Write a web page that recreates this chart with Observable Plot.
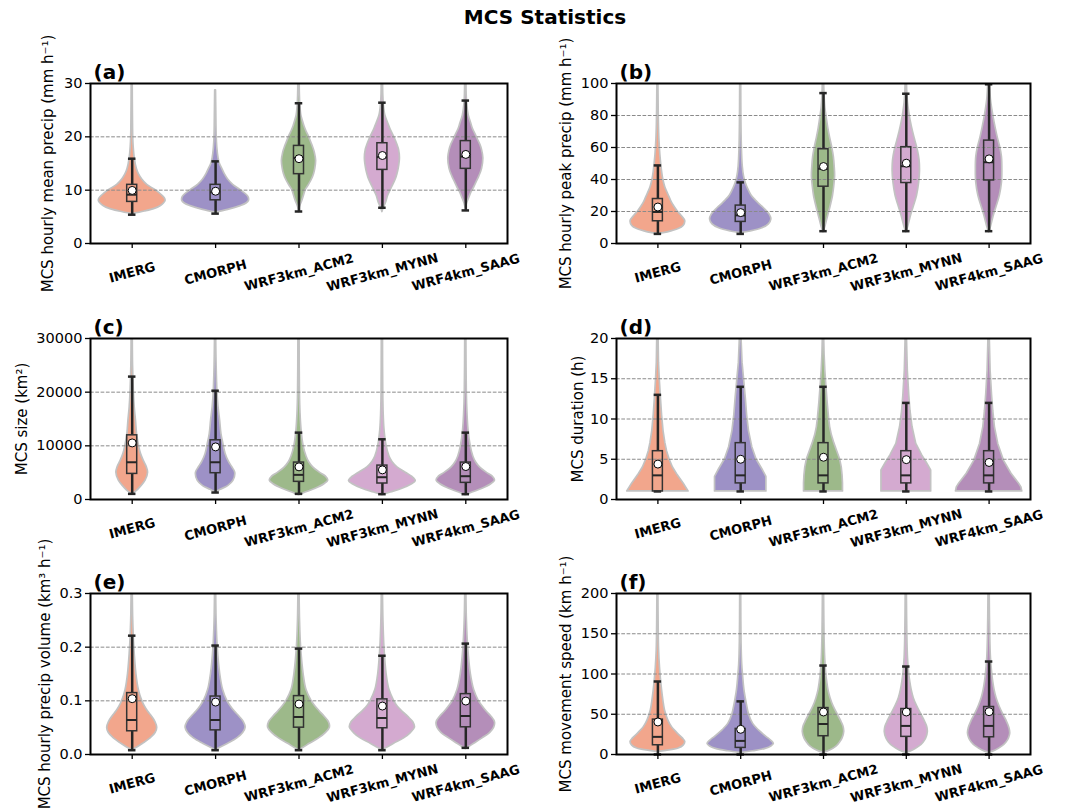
<!DOCTYPE html>
<html><head><meta charset="utf-8">
<script src="https://cdn.jsdelivr.net/npm/d3@7"></script>
<script src="https://cdn.jsdelivr.net/npm/@observablehq/plot@0.6"></script>
<style>
body{margin:0;background:#fff;font-family:"DejaVu Sans",sans-serif;}
#wrap{position:relative;width:1083px;height:809px;overflow:hidden;}
.panel{position:absolute;}
.panel svg{overflow:visible;}
#title{position:absolute;left:0;top:5px;width:1090px;text-align:center;font-weight:bold;font-size:20px;color:#000;}
</style></head>
<body><div id="wrap"><div id="title">MCS Statistics</div></div>
<script>
const categories = ["IMERG", "CMORPH", "WRF3km_ACM2", "WRF3km_MYNN", "WRF4km_SAAG"];
const colors = ["#f2a68c", "#9d91c6", "#9db98a", "#d4aad0", "#b48eb9"];

// violin profiles: [value, half-width in category units]
const violinA = [
  [[5.5,0],[6,0.15],[6.5,0.27],[7,0.34],[7.5,0.38],[8,0.40],[8.5,0.39],[9,0.36],[10,0.28],[11,0.18],[12,0.12],[13,0.08],[14,0.055],[16,0.03],[18,0.018],[20,0.012],[25,0.008],[30,0.006]],
  [[5.8,0],[6.3,0.15],[7,0.3],[7.5,0.37],[8,0.40],[8.5,0.40],[9,0.38],[10,0.30],[11,0.21],[12,0.15],[13,0.11],[14,0.08],[15,0.05],[16,0.035],[18,0.02],[20,0.013],[25,0.008],[28.7,0.005]],
  [[5.9,0],[6.8,0.01],[8,0.04],[9,0.06],[10,0.08],[11,0.12],[12,0.155],[13,0.18],[14,0.195],[15.5,0.205],[17,0.19],[18,0.17],[19,0.145],[20,0.12],[21,0.09],[22,0.065],[23,0.045],[24,0.028],[26,0.015],[28,0.01],[30,0.008]],
  [[5.9,0],[6.5,0.012],[7.5,0.04],[9,0.07],[10,0.10],[11,0.13],[12,0.16],[13,0.18],[14,0.195],[16,0.21],[17.5,0.2],[18.5,0.18],[19.5,0.155],[20.5,0.125],[21.5,0.095],[22.5,0.07],[24,0.035],[26,0.017],[28,0.01],[30,0.008]],
  [[6.5,0],[7.5,0.015],[8.5,0.04],[9.5,0.065],[10.5,0.1],[11.5,0.13],[12.5,0.16],[14,0.195],[16,0.21],[17.5,0.195],[18.5,0.175],[19.5,0.145],[20.5,0.115],[21.5,0.085],[22.5,0.065],[24,0.035],[26,0.017],[28,0.01],[30,0.008]]
];
const violinB = [
  [[6,0],[7,0.12],[9,0.25],[11,0.31],[14,0.33],[17,0.29],[20,0.24],[23,0.2],[26,0.165],[29,0.14],[35,0.09],[40,0.065],[45,0.05],[55,0.03],[65,0.018],[75,0.012],[90,0.008],[100,0.006]],
  [[6.5,0],[7.5,0.12],[9.5,0.26],[12,0.34],[15,0.37],[18,0.35],[21,0.30],[24,0.24],[27,0.18],[30,0.13],[34,0.09],[38,0.06],[42,0.04],[48,0.025],[60,0.014],[75,0.009],[100,0.006]],
  [[7,0],[10,0.02],[14,0.04],[18,0.06],[23,0.085],[30,0.115],[36,0.13],[42,0.14],[48,0.135],[54,0.125],[60,0.105],[66,0.08],[72,0.058],[78,0.04],[85,0.022],[92,0.013],[100,0.008]],
  [[7,0],[10,0.02],[14,0.04],[18,0.06],[23,0.09],[30,0.13],[38,0.155],[45,0.165],[52,0.16],[58,0.14],[64,0.11],[70,0.08],[76,0.055],[82,0.035],[88,0.02],[94,0.012],[100,0.008]],
  [[7,0],[10,0.02],[14,0.04],[18,0.06],[23,0.09],[30,0.13],[38,0.155],[46,0.16],[54,0.155],[60,0.135],[66,0.105],[72,0.08],[78,0.057],[84,0.038],[90,0.022],[96,0.014],[100,0.01]]
];
const violinC = [
  [[1000,0],[1500,0.05],[2300,0.10],[3500,0.16],[5000,0.19],[6000,0.175],[7000,0.145],[8500,0.105],[10400,0.077],[12200,0.058],[14700,0.045],[17200,0.03],[20000,0.02],[25000,0.01],[30000,0.007]],
  [[1300,0],[1800,0.06],[2500,0.15],[3500,0.215],[5000,0.235],[6000,0.2],[7000,0.16],[8500,0.12],[10400,0.093],[12200,0.07],[14700,0.054],[17200,0.035],[20000,0.022],[25000,0.012],[30000,0.007]],
  [[800,0],[1300,0.08],[2000,0.2],[2800,0.3],[3500,0.35],[4300,0.32],[5000,0.25],[6000,0.17],[7000,0.12],[8000,0.09],[10000,0.055],[13000,0.03],[16000,0.018],[20000,0.011],[30000,0.007]],
  [[800,0],[1300,0.1],[2000,0.24],[2800,0.35],[3400,0.40],[4200,0.36],[5000,0.28],[6000,0.18],[7000,0.12],[8000,0.085],[10000,0.05],[13000,0.025],[16000,0.015],[20000,0.01],[30000,0.007]],
  [[800,0],[1300,0.08],[2000,0.2],[2800,0.3],[3500,0.35],[4300,0.32],[5000,0.25],[6000,0.17],[7000,0.12],[8000,0.09],[10000,0.058],[13000,0.032],[16000,0.02],[20000,0.012],[30000,0.007]]
];
const violinD = [
  [[1,0.37],[2,0.31],[3,0.24],[4,0.18],[5,0.14],[6,0.11],[7,0.09],[8.5,0.068],[10.5,0.05],[12.5,0.037],[15,0.022],[17,0.013],[20,0.008]],
  [[1,0.31],[2.8,0.31],[3.6,0.27],[5,0.19],[6.5,0.14],[8.5,0.1],[10.5,0.077],[12.5,0.062],[15,0.04],[17,0.022],[20,0.01]],
  [[1,0.235],[2,0.235],[3,0.23],[4,0.22],[5,0.2],[6,0.165],[7,0.13],[8,0.1],[9,0.08],[10,0.068],[12,0.05],[14,0.035],[16,0.022],[18,0.013],[20,0.008]],
  [[1,0.30],[3.6,0.30],[4.5,0.25],[5.5,0.19],[6.9,0.12],[9,0.075],[11,0.05],[13,0.035],[16,0.018],[20,0.008]],
  [[1,0.40],[1.5,0.39],[2,0.36],[3.2,0.27],[4.8,0.18],[6.9,0.11],[9,0.07],[11,0.05],[13,0.035],[16,0.018],[20,0.008]]
];
const violinE = [
  [[0.008,0],[0.012,0.05],[0.02,0.13],[0.03,0.22],[0.04,0.28],[0.05,0.30],[0.06,0.28],[0.07,0.24],[0.08,0.19],[0.09,0.15],[0.1,0.12],[0.12,0.08],[0.15,0.05],[0.2,0.025],[0.25,0.012],[0.3,0.007]],
  [[0.008,0],[0.012,0.05],[0.02,0.15],[0.03,0.26],[0.04,0.33],[0.05,0.36],[0.06,0.34],[0.07,0.29],[0.08,0.23],[0.09,0.18],[0.1,0.14],[0.12,0.09],[0.15,0.055],[0.2,0.025],[0.25,0.012],[0.3,0.007]],
  [[0.008,0],[0.012,0.05],[0.02,0.13],[0.03,0.24],[0.04,0.32],[0.05,0.37],[0.06,0.36],[0.07,0.31],[0.08,0.25],[0.09,0.195],[0.1,0.15],[0.12,0.09],[0.15,0.055],[0.2,0.025],[0.25,0.012],[0.3,0.007]],
  [[0.008,0],[0.012,0.05],[0.02,0.14],[0.03,0.26],[0.04,0.34],[0.05,0.39],[0.06,0.37],[0.07,0.31],[0.08,0.24],[0.09,0.18],[0.1,0.14],[0.12,0.085],[0.15,0.05],[0.2,0.024],[0.25,0.012],[0.3,0.007]],
  [[0.01,0],[0.015,0.05],[0.02,0.1],[0.03,0.2],[0.04,0.29],[0.05,0.34],[0.06,0.35],[0.07,0.31],[0.08,0.25],[0.09,0.2],[0.1,0.155],[0.12,0.1],[0.15,0.06],[0.2,0.028],[0.25,0.013],[0.3,0.007]]
];
const violinF = [
  [[3,0],[4.5,0.1],[7.4,0.25],[11,0.31],[15.7,0.33],[20,0.3],[26,0.24],[34,0.17],[42.5,0.125],[55,0.085],[67,0.066],[80,0.05],[92,0.038],[108,0.025],[130,0.014],[160,0.009],[200,0.006]],
  [[2,0],[4,0.15],[7,0.3],[10,0.37],[13,0.40],[17,0.37],[22,0.31],[30,0.22],[38,0.15],[50,0.10],[63,0.073],[80,0.045],[96,0.03],[112,0.018],[140,0.01],[200,0.006]],
  [[2,0],[5,0.08],[10,0.16],[15,0.2],[20,0.23],[28,0.25],[35,0.24],[42,0.21],[50,0.17],[60,0.12],[70,0.085],[80,0.06],[90,0.045],[100,0.033],[120,0.02],[150,0.012],[200,0.007]],
  [[2,0],[5,0.08],[10,0.16],[15,0.21],[20,0.24],[28,0.26],[35,0.25],[42,0.22],[50,0.18],[60,0.13],[70,0.09],[80,0.065],[90,0.048],[100,0.035],[120,0.02],[150,0.012],[200,0.007]],
  [[2,0],[5,0.08],[10,0.16],[15,0.21],[20,0.24],[26,0.255],[33,0.245],[42,0.21],[50,0.17],[60,0.125],[70,0.09],[80,0.066],[90,0.05],[100,0.038],[120,0.022],[150,0.013],[200,0.007]]
];

// box stats per category: [whisker low, Q1, median, Q3, whisker high, mean]
const boxA = [[5.4,7.8,9.15,11.0,15.9,9.95],[5.6,8.1,9.6,11.0,15.4,9.8],[6.0,13.0,16.05,18.3,26.3,15.9],[6.7,13.8,16.2,18.8,26.4,16.5],[6.2,14.0,16.3,19.2,26.8,16.7]];
const boxB = [[6.0,13.9,19.7,27.8,48.8,22.8],[6.0,13.5,17.6,23.7,38.2,19.3],[7.7,35.5,46.7,58.9,94.0,48.1],[7.7,37.8,48.3,60.2,93.6,50.2],[7.7,39.4,50.8,64.3,99.5,52.9]];
const boxC = [[1050,4770,6940,11960,22900,10540],[1300,4900,6940,11030,20270,9800],[1050,3290,4590,6880,12460,6080],[990,2980,4150,6320,11220,5520],[990,3100,4340,6880,12460,6140]];
const boxD = [[1,1,3,6,13,4.4],[1,2,3,7,14,5.0],[1,2,3,7,14,5.25],[1,2,3,6,12,4.95],[1,2,3,6,12,4.6]];
const boxE = [[0.008,0.0433,0.0643,0.1144,0.2214,0.104],[0.008,0.045,0.0643,0.108,0.203,0.0977],[0.008,0.05,0.0699,0.1088,0.1973,0.094],[0.008,0.0489,0.068,0.1027,0.184,0.0903],[0.0124,0.0507,0.0717,0.1125,0.2066,0.0996]];
const boxF = [[0,11.5,21.9,43.3,90.7,40.4],[0,8.2,16.9,31.8,66,31.3],[0,22.7,37.9,57.7,110.5,52.8],[0,21.9,35.5,56.5,109.3,52.8],[0,21.4,35.5,59,115.5,53.2]];

const panelLabels = ["(a)","(b)","(c)","(d)","(e)","(f)"];
const yLabels = ["MCS hourly mean precip (mm h\u207B\u00B9)","MCS hourly peak precip (mm h\u207B\u00B9)","MCS size (km\u00B2)","MCS duration (h)","MCS hourly precip volume (km\u00B3 h\u207B\u00B9)","MCS movement speed (km h\u207B\u00B9)"];
const yTicksA = [0,10,20,30], yTicksB = [0,20,40,60,80,100], yTicksC = [0,10000,20000,30000], yTicksD = [0,5,10,15,20], yTicksE = [0,0.1,0.2,0.3], yTicksF = [0,50,100,150,200];

function panel(o) {
  const vdata = [];
  o.violins.forEach((prof, i) => prof.forEach(([v, w]) => vdata.push({i, v, w, c: colors[i]})));
  const b = o.boxes.map((s, i) => ({i, lo: s[0], q1: s[1], med: s[2], q3: s[3], hi: s[4], mean: s[5]}));
  const ink = "#262626";
  const yMax = o.yTicks[o.yTicks.length - 1];
  const chart = Plot.plot({
    width: o.width, height: o.height,
    marginLeft: o.mL, marginRight: o.mR, marginTop: o.mT, marginBottom: o.mB,
    style: {fontFamily: "DejaVu Sans", fontSize: "14.5px", color: "#000", background: "transparent", overflow: "visible"},
    x: {domain: [-0.5, 4.5], axis: null},
    y: {domain: [0, yMax], axis: null},
    color: {type: "identity"},
    marks: [
      Plot.areaX(vdata, {y: "v", x1: d => d.i - d.w, x2: d => d.i + d.w, z: "i", fill: "c", stroke: "#c2c2c2", strokeWidth: 1.7, curve: o.curve, clip: true}),
      Plot.gridY(o.yTicks.slice(1, -1), {stroke: "#8a8a8a", strokeOpacity: 1, strokeWidth: 1, strokeDasharray: "3.7,1.6"}),
      Plot.ruleX(b, {x: "i", y1: "lo", y2: "q1", stroke: ink, strokeWidth: 2.5}),
      Plot.ruleX(b, {x: "i", y1: "q3", y2: "hi", stroke: ink, strokeWidth: 2.5}),
      Plot.ruleY(b, {y: "hi", x1: d => d.i - 0.045, x2: d => d.i + 0.045, stroke: ink, strokeWidth: 2.5}),
      Plot.ruleY(b, {y: "lo", x1: d => d.i - 0.045, x2: d => d.i + 0.045, stroke: ink, strokeWidth: 2.5}),
      Plot.rect(b, {x1: d => d.i - 0.06, x2: d => d.i + 0.06, y1: "q1", y2: "q3", fill: "none", stroke: "#333", strokeWidth: 1.5}),
      Plot.ruleY(b, {y: "med", x1: d => d.i - 0.06, x2: d => d.i + 0.06, stroke: ink, strokeWidth: 2}),
      Plot.dot(b, {x: "i", y: "mean", r: 4, fill: "white", stroke: "black", strokeWidth: 1}),
      Plot.frame({stroke: "#000", strokeWidth: 2}),
      Plot.axisY({ticks: o.yTicks, tickFormat: o.fmt, tickSize: 5, tickPadding: 3, fontSize: 14.5, label: null, strokeWidth: 1.3}),
      Plot.axisX({ticks: [0,1,2,3,4], tickFormat: () => "", tickSize: 5, label: null, strokeWidth: 1.3}),
      Plot.text(categories, {x: (d, i) => i, frameAnchor: "bottom", dy: 29, rotate: -15, textAnchor: "middle", lineAnchor: "middle", fontWeight: "bold", fontSize: 13, fill: "#000"}),
      Plot.text([o.label], {frameAnchor: "top-left", dx: 3, dy: -5, lineAnchor: "bottom", textAnchor: "start", fontWeight: "bold", fontSize: 20, fill: "#000"}),
      Plot.text([o.ylabel], {frameAnchor: "left", dx: -o.yOff, rotate: -90, textAnchor: "middle", lineAnchor: "middle", fontSize: 15, fill: "#000"})
    ]
  });
  const div = document.createElement("div");
  div.className = "panel";
  div.style.left = o.left + "px";
  div.style.top = o.top + "px";
  div.style.width = o.width + "px";
  div.style.height = o.height + "px";
  div.appendChild(chart);
  document.getElementById("wrap").appendChild(div);
}

const col1 = {left: 0, width: 540, mL: 90, mR: 33};
const col2 = {left: 540, width: 543, mL: 76, mR: 53};
const row1 = {top: 40, height: 270, mT: 43, mB: 67};
const row2 = {top: 305, height: 245, mT: 33, mB: 51};
const row3 = {top: 550, height: 259, mT: 43, mB: 55};
const intFmt = d3.format("d");

panel({...col1, ...row1, label: panelLabels[0], ylabel: yLabels[0], yTicks: yTicksA, fmt: intFmt, violins: violinA, boxes: boxA, curve: "catmull-rom", yOff: 42});
panel({...col2, ...row1, label: panelLabels[1], ylabel: yLabels[1], yTicks: yTicksB, fmt: intFmt, violins: violinB, boxes: boxB, curve: "catmull-rom", yOff: 50});
panel({...col1, ...row2, label: panelLabels[2], ylabel: yLabels[2], yTicks: yTicksC, fmt: intFmt, violins: violinC, boxes: boxC, curve: "catmull-rom", yOff: 68});
panel({...col2, ...row2, label: panelLabels[3], ylabel: yLabels[3], yTicks: yTicksD, fmt: intFmt, violins: violinD, boxes: boxD, curve: "linear", yOff: 38});
panel({...col1, ...row3, label: panelLabels[4], ylabel: yLabels[4], yTicks: yTicksE, fmt: d3.format(".1f"), violins: violinE, boxes: boxE, curve: "catmull-rom", yOff: 45});
panel({...col2, ...row3, label: panelLabels[5], ylabel: yLabels[5], yTicks: yTicksF, fmt: intFmt, violins: violinF, boxes: boxF, curve: "catmull-rom", yOff: 50});
</script>
</body></html>
